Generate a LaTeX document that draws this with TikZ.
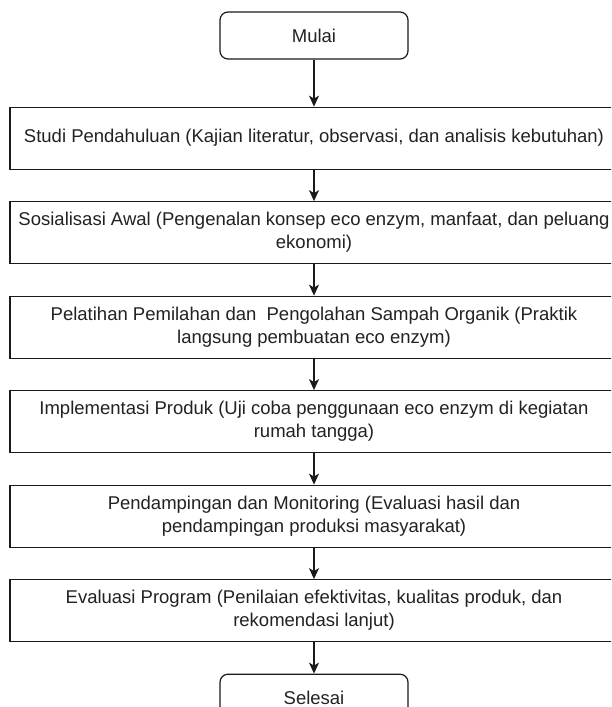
\documentclass[tikz,border=0pt]{standalone}
\usepackage{fontspec}
\setmainfont{Liberation Sans}
\usetikzlibrary{positioning, arrows.meta}
\definecolor{garis}{HTML}{1A1A1A}
\definecolor{tinta}{HTML}{222222}
\tikzset{
  ujung/.style={rounded corners=8pt, draw=garis, line width=1.2pt, fill=white,
                minimum width=188pt, minimum height=47pt, text=tinta,
                font=\fontsize{18.5}{23}\selectfont},
  tahap/.style={draw=garis, line width=1.2pt, fill=white, align=center,
                minimum width=608pt, minimum height=62pt, inner sep=2pt,
                text=tinta, font=\fontsize{18.5}{23}\selectfont},
  flow/.style={-{Stealth[length=11pt, width=10pt, inset=3pt]}, line width=1.2pt,
               draw=garis},
}

\begin{document}
\begin{tikzpicture}[x=1pt, y=-1pt, node distance=31.3pt]
  \path[use as bounding box, clip] (0,0) rectangle (611,707);
  \node[ujung] (mulai) at (314,35.5) {Mulai};
  \node[tahap, below=47pt of mulai] (studi)
        {Studi Pendahuluan (Kajian literatur, observasi, dan analisis kebutuhan)};
  \node[tahap, below=of studi] (sosial)
        {Sosialisasi Awal (Pengenalan konsep eco enzym, manfaat, dan peluang\\ekonomi)};
  \node[tahap, below=of sosial] (latih)
        {Pelatihan Pemilahan dan~ Pengolahan Sampah Organik (Praktik\\langsung pembuatan eco enzym)};
  \node[tahap, below=of latih] (impl)
        {Implementasi Produk (Uji coba penggunaan eco enzym di kegiatan\\rumah tangga)};
  \node[tahap, below=of impl] (damping)
        {Pendampingan dan Monitoring (Evaluasi hasil dan\\pendampingan produksi masyarakat)};
  \node[tahap, below=of damping] (evalu)
        {Evaluasi Program (Penilaian efektivitas, kualitas produk, dan\\rekomendasi lanjut)};
  \node[ujung, below=of evalu] (selesai) {Selesai};
  % alur dari atas ke bawah
  \draw[flow] (mulai)--(studi);
  \draw[flow] (studi)--(sosial);
  \draw[flow] (sosial)--(latih);
  \draw[flow] (latih)--(impl);
  \draw[flow] (impl)--(damping);
  \draw[flow] (damping)--(evalu);
  \draw[flow] (evalu)--(selesai);
\end{tikzpicture}
\end{document}
